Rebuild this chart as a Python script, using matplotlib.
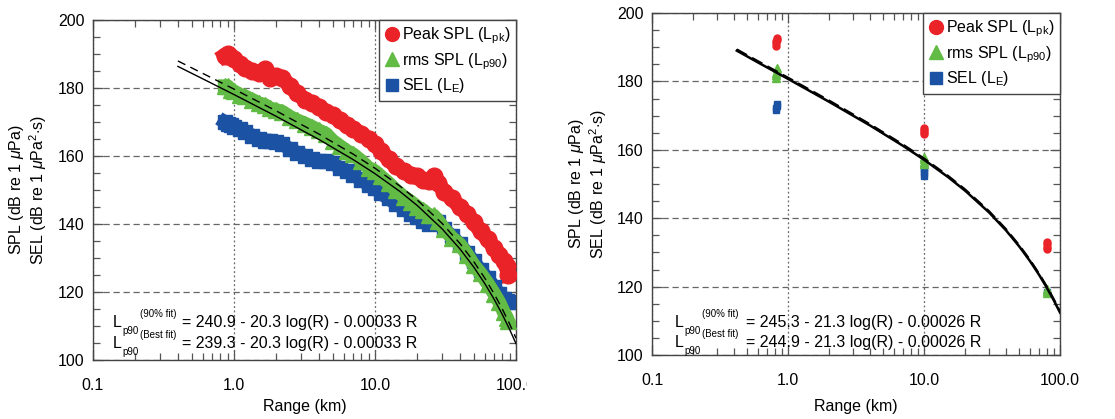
import matplotlib
matplotlib.use("Agg")
import matplotlib.pyplot as plt
from matplotlib.lines import Line2D
from matplotlib.patches import Rectangle
from matplotlib.ticker import MultipleLocator, LogLocator, NullFormatter

plt.rcParams['font.family'] = ['Liberation Sans', 'DejaVu Sans']
plt.rcParams['mathtext.fontset'] = 'custom'
plt.rcParams['mathtext.rm'] = 'Liberation Sans'
plt.rcParams['mathtext.it'] = 'Liberation Sans:italic'
plt.rcParams['mathtext.bf'] = 'Liberation Sans:bold'

# --- DATA ---

# left panel: measured bands vs range (km)
left_range = [0.86, 0.9, 0.95, 1.0, 1.1, 1.2, 1.35, 1.5, 1.65, 1.8, 2.0, 2.2, 2.5, 2.8,
              3.2, 3.6, 4.0, 4.5, 5.0, 5.6, 6.3, 7.0, 8.0, 9.0, 10, 11, 12.5, 14, 16, 18,
              20, 22, 24, 26, 28, 31, 35, 40, 45, 50, 56, 63, 70, 76, 82, 86, 88]
left_peak = [189.5, 190, 189, 188.5, 187, 186, 185, 184.5, 185.5, 183, 183.5, 183, 180.5, 178.5,
             176.5, 175.5, 174.5, 173, 172, 170.5, 169, 168, 166.5, 165, 163.5, 161.5, 159, 157, 155.5, 154.5,
             154, 153, 152.5, 154, 152, 149.5, 147.5, 145, 143, 140.5, 138, 135.5, 133, 131, 129, 127.5, 125]
left_rms = [180.5, 180.5, 179.5, 179, 178, 177.5, 176.5, 175.5, 175, 174, 173.5, 173, 171.5, 170.5,
            169.5, 168.5, 167.5, 166.5, 164.5, 163, 161.5, 160.5, 158.5, 156.5, 155.5, 154, 152, 150, 148, 146.5,
            145, 144, 142.5, 142.5, 141, 138.5, 136, 134, 131, 128, 125.5, 122.5, 119.5, 117, 114, 112.5, 111.5]
left_sel = [170, 169.5, 169, 168.5, 168, 167, 166, 165, 164.5, 164.5, 164, 163.5, 162, 161,
            160, 159, 158.5, 158.5, 158, 156.5, 155.5, 154.5, 153, 151.5, 150.5, 149, 147.5, 146, 144.5, 143,
            142, 141, 140, 141, 140.5, 138.5, 136.5, 134, 131.5, 129, 126.5, 124, 121.5, 119.5, 118, 117.5, 117]

# left panel fit curves (90% fit and best fit)
left_fit_range = [0.4, 0.6, 1, 2, 4, 7, 10, 15, 20, 30, 40, 50, 60, 70, 80, 90, 100]
left_fit90 = [187.95, 184.30, 179.67, 173.23, 166.46, 160.54, 156.40, 151.18, 146.99,
              140.12, 134.28, 129.01, 124.11, 119.45, 114.97, 110.63, 106.40]
left_fitbest = [186.35, 182.70, 178.07, 171.63, 164.86, 158.94, 154.80, 149.58, 145.39,
                138.52, 132.68, 127.41, 122.51, 117.85, 113.37, 109.03, 104.80]

# right panel: measured clusters
right_peak_range = [0.82, 0.82, 0.83, 0.83, 0.82, 10, 10, 10, 10, 80, 80, 80, 80]
right_peak = [190.5, 191.3, 192.0, 192.8, 191.8, 164.5, 165.2, 165.8, 166.5, 131.0, 131.7, 132.4, 133.1]
right_rms_range = [0.82, 0.82, 0.83, 0.83, 0.82, 10, 10, 10, 10, 80, 80, 80]
right_rms = [181.0, 182.0, 183.0, 184.0, 182.5, 155.8, 156.5, 157.2, 157.8, 118.0, 118.6, 119.2]
right_sel_range = [0.82, 0.82, 0.83, 0.83, 10, 10, 10, 10, 80]
right_sel = [171.5, 172.2, 172.8, 173.3, 152.4, 153.2, 154.0, 154.6, 118.5]

right_fit_range = [0.42, 0.6, 1, 2, 4, 7, 10, 15, 20, 30, 40, 50, 60, 70, 80, 90, 100]
right_fit90 = [189.4, 185.97, 181.14, 174.47, 167.54, 161.58, 157.50, 152.45, 148.49,
               142.14, 136.88, 132.21, 127.93, 123.90, 120.07, 116.38, 112.80]
right_fitbest = [189.0, 185.57, 180.74, 174.07, 167.14, 161.18, 157.10, 152.05, 148.09,
                 141.74, 136.48, 131.81, 127.53, 123.50, 119.67, 115.98, 112.40]

left_eq = ["= 240.9 - 20.3 log(R) - 0.00033 R", "= 239.3 - 20.3 log(R) - 0.00033 R"]
right_eq = ["= 245.3 - 21.3 log(R) - 0.00026 R", "= 244.9 - 21.3 log(R) - 0.00026 R"]
fit_names = ["(90% fit)", "(Best fit)"]

x_ticks = [0.1, 1, 10, 100]
x_ticklabels = ["0.1", "1.0", "10.0", "100.0"]
y_ticks = [100, 120, 140, 160, 180, 200]

RED = "#ea2329"
GREEN = "#62bb45"
BLUE = "#1b52a3"
FS = 11.5
W, H = 1115, 419


def ptext(x, y, s, **kw):
    # place text using pixel coordinates measured from the top-left corner
    fig.text(x / W, 1 - y / H, s, **kw)


def style_axes(ax):
    ax.set_xscale("log")
    ax.set_xlim(0.1, 100)
    ax.set_ylim(100, 200)
    ax.set_xticks(x_ticks)
    ax.set_xticklabels(x_ticklabels)
    ax.xaxis.set_minor_locator(LogLocator(base=10, subs=range(2, 10)))
    ax.xaxis.set_minor_formatter(NullFormatter())
    ax.set_yticks(y_ticks)
    ax.yaxis.set_minor_locator(MultipleLocator(5))
    ax.tick_params(which="both", direction="in", top=True, right=True, color="#555", labelsize=FS)
    ax.tick_params(which="major", length=7, width=0.9)
    ax.tick_params(which="minor", length=5, width=0.9)
    ax.tick_params(axis="x", pad=13)
    ax.tick_params(axis="y", pad=6)
    ax.grid(axis="y", which="major", color="#666", ls=(0, (5, 3)), lw=0.9)
    ax.grid(axis="x", which="major", color="#666", ls=(0, (1.5, 2)), lw=0.9)
    for s in ax.spines.values():
        s.set_color("#444")
        s.set_linewidth(1.0)
    ax.set_xlabel("Range (km)", fontsize=FS)

    handles = [
        Line2D([], [], marker="o", color=RED, ls="none", markersize=10),
        Line2D([], [], marker="^", color=GREEN, ls="none", markersize=10),
        Line2D([], [], marker="s", color=BLUE, ls="none", markersize=9),
    ]
    labels = ["Peak SPL (L$_{\\mathregular{pk}}$)", "rms SPL (L$_{\\mathregular{p90}}$)",
              "SEL (L$_{\\mathregular{E}}$)"]
    leg = ax.legend(handles, labels, loc="upper right", borderaxespad=0, fancybox=False,
                    edgecolor="#444", framealpha=1, fontsize=FS, handletextpad=0.1,
                    handlelength=1.0, borderpad=0.35, labelspacing=0.3)
    leg.get_frame().set_linewidth(1.0)
    leg.set_zorder(20)


def ylabel(x1, x2, yc):
    ptext(x1, yc, "SPL (dB re 1 $\\mu$Pa)", rotation=90, ha="center", va="center", fontsize=FS)
    ptext(x2, yc, "SEL (dB re 1 $\\mu$Pa$^2$$\\cdot$s)", rotation=90, ha="center", va="center",
          fontsize=FS)


def fit_labels(xl, xeq, base1, base2, eqs):
    for base, name, eq in zip([base1, base2], fit_names, eqs):
        ptext(xl, base, "L", fontsize=FS, ha="left", va="baseline")
        ptext(xl + 9, base + 7, "p90", fontsize=7, ha="left", va="baseline")
        ptext(xl + 27, base - 10, name, fontsize=7, ha="left", va="baseline")
        ptext(xeq, base, eq, fontsize=FS, ha="left", va="baseline")


fig = plt.figure(figsize=(11.15, 4.19), dpi=100)
ax1 = fig.add_axes([0.0834, 0.1408, 0.3794, 0.8115])
ax2 = fig.add_axes([0.5848, 0.1527, 0.3659, 0.8162])

# --- left panel ---
ax1.plot(left_range, left_peak, color=RED, lw=11, marker="o", markersize=12, solid_joinstyle="round", zorder=3)
ax1.plot(left_range, left_sel, color=BLUE, lw=10, marker="s", markersize=10, solid_joinstyle="round", zorder=4)
ax1.plot(left_range, left_rms, color=GREEN, lw=10, marker="^", markersize=11, solid_joinstyle="round", zorder=5)
ax1.plot(left_fit_range, left_fit90, color="black", lw=1.0, ls=(0, (6, 4)), zorder=6)
ax1.plot(left_fit_range, left_fitbest, color="black", lw=1.0, zorder=6)
style_axes(ax1)
ax1.xaxis.set_label_coords(0.5, -0.115)
ylabel(17, 38, 190)
fit_labels(113, 182, 327, 348, left_eq)

# --- right panel ---
ax2.plot(right_peak_range, right_peak, color=RED, ls="none", marker="o", markersize=5, zorder=3)
ax2.plot(right_sel_range, right_sel, color=BLUE, ls="none", marker="s", markersize=5, zorder=4)
ax2.plot(right_rms_range, right_rms, color=GREEN, ls="none", marker="^", markersize=6, zorder=5)
ax2.plot(right_fit_range, right_fitbest, color="black", lw=1.8, zorder=6)
ax2.plot(right_fit_range, right_fit90, color="black", lw=1.4, ls=(0, (6, 3)), zorder=6)
style_axes(ax2)
ax2.xaxis.set_label_coords(0.5, -0.13)
ylabel(576, 598, 184)
fit_labels(675, 746, 327, 347, right_eq)

# the source image cuts the left panel's last tick label
fig.add_artist(Rectangle((527 / W, 0), 33 / W, 0.2, transform=fig.transFigure,
                         facecolor="white", edgecolor="none", zorder=30))

fig.savefig("out.png", dpi=100)
